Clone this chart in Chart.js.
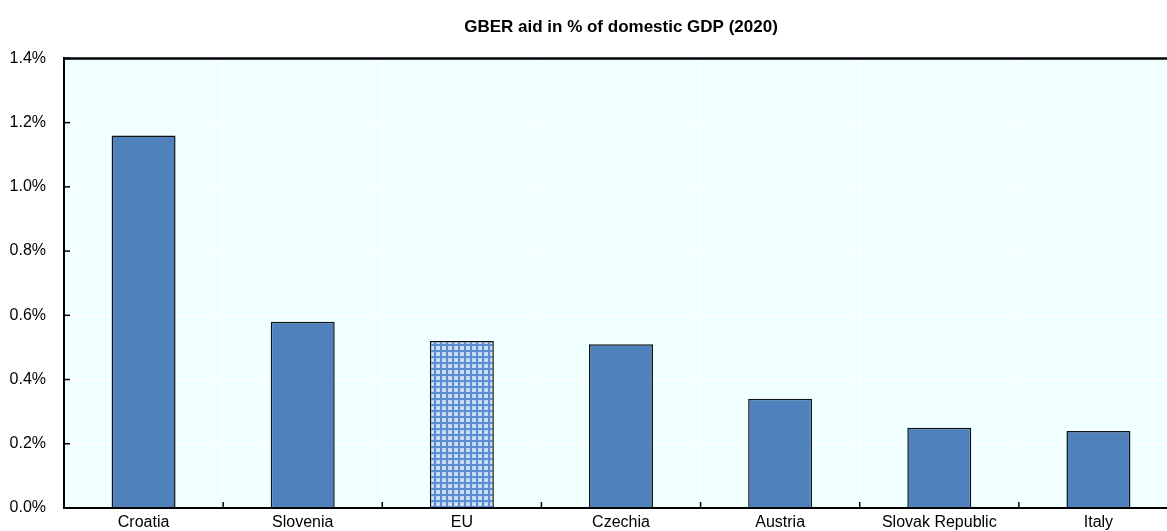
<!DOCTYPE html>
<html>
<head>
<meta charset="utf-8">
<script src="https://cdn.jsdelivr.net/npm/chart.js@4"></script>
<style>
  html, body { margin: 0; padding: 0; background: #fff; overflow: hidden; }
  /* the plot runs a little past the right edge, as in the original */
  #wrap { width: 1167px; height: 531px; overflow: hidden; }
  #chart { display: block; width: 1178px; height: 531px; }
</style>
</head>
<body>
<div id="wrap"><canvas id="chart" width="1178" height="531"></canvas></div>
<script>
const countries = ['Croatia', 'Slovenia', 'EU', 'Czechia', 'Austria', 'Slovak Republic', 'Italy'];
const aidShare = [1.16, 0.58, 0.52, 0.51, 0.34, 0.25, 0.24];
const yTicks = [0, 0.2, 0.4, 0.6, 0.8, 1.0, 1.2, 1.4];

const BAR_BLUE = '#4F81BD';
const PLOT_BG = '#F0FFFF';

// cross pattern for the EU average bar
function makePattern() {
    let c = document.createElement('canvas');
    c.width = 6; c.height = 6;
    let g = c.getContext('2d');
    g.fillStyle = '#C6D9F2';
    g.fillRect(0, 0, 6, 6);
    g.fillStyle = '#ECF3FC';
    g.fillRect(0, 0, 1, 1);
    g.fillStyle = '#5B8DD0';
    g.fillRect(2, 0, 2, 6);
    g.fillRect(0, 2, 6, 2);
    return g.createPattern(c, 'repeat');
}
const euPattern = makePattern();
const barColors = countries.map(c => c === 'EU' ? euPattern : BAR_BLUE);

const plotFrame = {
    id: 'plotFrame',
    beforeDraw(chart) {
        let a = chart.chartArea, ctx = chart.ctx;
        ctx.save();
        ctx.fillStyle = PLOT_BG;
        ctx.fillRect(a.left, a.top, a.right - a.left, a.bottom - a.top);
        ctx.restore();
    },
    afterDatasetsDraw(chart) {
        let a = chart.chartArea, ctx = chart.ctx;
        let y = chart.scales.y, x = chart.scales.x;
        ctx.save();
        ctx.strokeStyle = '#000';
        ctx.lineWidth = 2.5;
        ctx.beginPath();
        ctx.moveTo(a.left, a.top);
        ctx.lineTo(a.right, a.top);
        ctx.stroke();
        ctx.lineWidth = 1.5;
        // inward ticks on the value axis
        for (let v of yTicks) {
            let py = y.getPixelForValue(v);
            ctx.beginPath();
            ctx.moveTo(a.left, py);
            ctx.lineTo(a.left + 6, py);
            ctx.stroke();
        }
        // ticks between categories
        for (let i = 1; i < countries.length; i++) {
            let px = (x.getPixelForValue(i - 1) + x.getPixelForValue(i)) / 2;
            ctx.beginPath();
            ctx.moveTo(px, a.bottom);
            ctx.lineTo(px, a.bottom - 6);
            ctx.stroke();
        }
        ctx.restore();
    }
};

new Chart(document.getElementById('chart'), {
    type: 'bar',
    data: {
        labels: countries,
        datasets: [{
            label: 'GBER aid in % of domestic GDP',
            data: aidShare,
            backgroundColor: barColors,
            borderColor: '#111',
            borderWidth: 1.5,
            categoryPercentage: 1,
            barPercentage: 0.402
        }]
    },
    options: {
        responsive: false,
        maintainAspectRatio: false,
        animation: false,
        layout: { padding: 0 },
        plugins: {
            legend: { display: false },
            tooltip: { enabled: false },
            title: {
                display: true,
                fullSize: false,
                text: 'GBER aid in % of domestic GDP (2020)',
                color: '#000',
                font: { family: 'Liberation Sans, Arial, sans-serif', size: 17, weight: 'bold' },
                padding: { top: 17, bottom: 21 }
            }
        },
        scales: {
            x: {
                offset: true,
                grid: { display: true, offset: true, color: '#fff', lineWidth: 1.5, drawTicks: false },
                border: { color: '#000', width: 2 },
                ticks: {
                    color: '#000',
                    padding: 5,
                    maxRotation: 0,
                    font: { family: 'Liberation Sans, Arial, sans-serif', size: 16 }
                },
                afterFit(s) { s.height = 23; s.paddingBottom = 0; s.paddingTop = 0; }
            },
            y: {
                min: 0,
                max: 1.4,
                grid: { color: '#fff', lineWidth: 1.5, drawTicks: false },
                border: { color: '#000', width: 2 },
                ticks: {
                    stepSize: 0.2,
                    color: '#000',
                    padding: 18,
                    font: { family: 'Liberation Sans, Arial, sans-serif', size: 16 },
                    callback: v => v.toFixed(1) + '%'
                },
                afterFit(s) { s.width = 64; s.paddingBottom = 0; }
            }
        }
    },
    plugins: [plotFrame]
});
</script>
</body>
</html>
